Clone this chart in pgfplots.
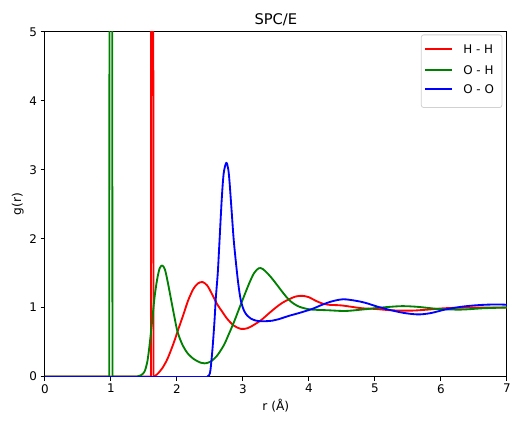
\documentclass[border=0pt]{standalone}
\usepackage{pgfplots}
\pgfplotsset{compat=1.18}
\usepackage{fontspec}
\setmainfont{DejaVu Sans}
\definecolor{mplgreen}{RGB}{0,128,0}
\definecolor{mplred}{RGB}{255,0,0}
\definecolor{mplblue}{RGB}{0,0,255}
\begin{document}
\begin{tikzpicture}
\begin{axis}[
  at={(0,0)}, anchor=south west,
  scale only axis, width=464bp, height=346bp,
  xmin=0, xmax=7, ymin=0, ymax=5,
  xtick={0,1,...,7}, ytick={0,1,...,5},
  tick align=outside, major tick length=4.3bp,
  tick style={black, line width=1bp},
  xtick pos=bottom, ytick pos=left,
  /pgf/number format/assume math mode=true,
  tick label style={font=\fontsize{12}{14}\selectfont},
  label style={font=\fontsize{12.3}{14}\selectfont},
  title style={font=\fontsize{14.8}{17}\selectfont, yshift=-3bp},
  title={SPC/E},
  xlabel={r (Å)}, ylabel={g(r)},
  xlabel style={yshift=1bp},
  ylabel style={yshift=-1bp},
  axis line style={line width=1bp},
  clip=true,
  every axis plot/.append style={line width=1.85bp, line join=round},
]
% H - H
\addplot[mplred] coordinates {(0,0)(1.608,0)(1.613,12)(1.628,40)(1.640,12)(1.646,0)(1.65,0)};
\addplot[mplred, smooth] coordinates {(1.65,0)(1.7,0.03)(1.78,0.12)(1.86,0.26)(1.95,0.48)(2.01,0.65)(2.1,0.9)(2.17,1.1)(2.25,1.27)(2.32,1.35)(2.39,1.37)(2.46,1.32)(2.53,1.2)(2.61,1.05)(2.68,0.95)(2.76,0.84)(2.86,0.74)(2.97,0.69)(3.07,0.7)(3.17,0.75)(3.28,0.82)(3.4,0.92)(3.5,1.0)(3.6,1.07)(3.7,1.12)(3.8,1.16)(3.9,1.17)(4.0,1.15)(4.1,1.1)(4.2,1.06)(4.3,1.04)(4.5,1.03)(4.8,0.99)(5.0,0.98)(5.25,0.96)(5.55,0.955)(5.8,0.97)(6.06,0.99)(6.4,1.0)(7.0,1.0)};
% O - H
\addplot[mplgreen] coordinates {(0,0)(0.975,0)(0.985,12)(1.0,40)(1.015,12)(1.025,0)(1.4,0)};
\addplot[mplgreen, smooth] coordinates {(1.4,0)(1.46,0.02)(1.51,0.07)(1.55,0.2)(1.58,0.4)(1.62,0.75)(1.66,1.13)(1.7,1.4)(1.74,1.57)(1.78,1.61)(1.82,1.55)(1.86,1.38)(1.91,1.13)(1.96,0.88)(2.01,0.65)(2.08,0.47)(2.16,0.34)(2.26,0.25)(2.36,0.2)(2.42,0.19)(2.5,0.21)(2.6,0.29)(2.71,0.45)(2.79,0.62)(2.87,0.8)(2.95,1.0)(3.02,1.17)(3.1,1.36)(3.17,1.5)(3.24,1.57)(3.3,1.56)(3.38,1.49)(3.46,1.4)(3.54,1.3)(3.62,1.2)(3.7,1.11)(3.78,1.05)(3.86,1.01)(3.95,0.985)(4.05,0.97)(4.3,0.96)(4.55,0.95)(4.8,0.97)(5.1,1.0)(5.4,1.02)(5.65,1.01)(5.96,0.98)(6.3,0.97)(6.65,0.99)(7.0,1.0)};
% O - O
\addplot[mplblue] coordinates {(0,0)(2.46,0)};
\addplot[mplblue, smooth] coordinates {(2.46,0)(2.49,0.02)(2.51,0.1)(2.54,0.4)(2.57,0.8)(2.59,1.13)(2.62,1.5)(2.64,1.85)(2.68,2.57)(2.71,2.95)(2.75,3.1)(2.78,3.0)(2.8,2.8)(2.83,2.4)(2.86,2.0)(2.89,1.7)(2.93,1.35)(2.97,1.1)(3.02,0.95)(3.07,0.88)(3.12,0.84)(3.2,0.81)(3.3,0.8)(3.45,0.81)(3.54,0.83)(3.7,0.88)(3.85,0.92)(4.05,0.98)(4.2,1.04)(4.35,1.09)(4.52,1.12)(4.7,1.1)(4.85,1.07)(5.05,1.01)(5.25,0.96)(5.45,0.92)(5.66,0.9)(5.85,0.92)(6.06,0.97)(6.3,1.01)(6.5,1.03)(6.66,1.04)(6.85,1.045)(7.0,1.04)};
\end{axis}
% legend (outside axis, in bp relative to the axis's lower left corner)
\draw[draw=black!18, fill=white, rounded corners=2.5bp, line width=0.8bp] (378bp,270bp) rectangle (459bp,343bp);
\draw[mplred, line width=1.85bp] (382bp,328.7bp) -- (409bp,328.7bp);
\draw[mplgreen, line width=1.85bp] (382bp,308bp) -- (409bp,308bp);
\draw[mplblue, line width=1.85bp] (382bp,288.7bp) -- (409bp,288.7bp);
\begin{scope}[every node/.style={anchor=west, inner sep=0pt, font=\fontsize{12}{14}\selectfont}]
\node at (420bp,328.7bp) {H - H};
\node at (420bp,308bp) {O - H};
\node at (420bp,288.7bp) {O - O};
\end{scope}
\useasboundingbox (-45bp,-49bp) rectangle (469bp,378bp);
\end{tikzpicture}
\end{document}
